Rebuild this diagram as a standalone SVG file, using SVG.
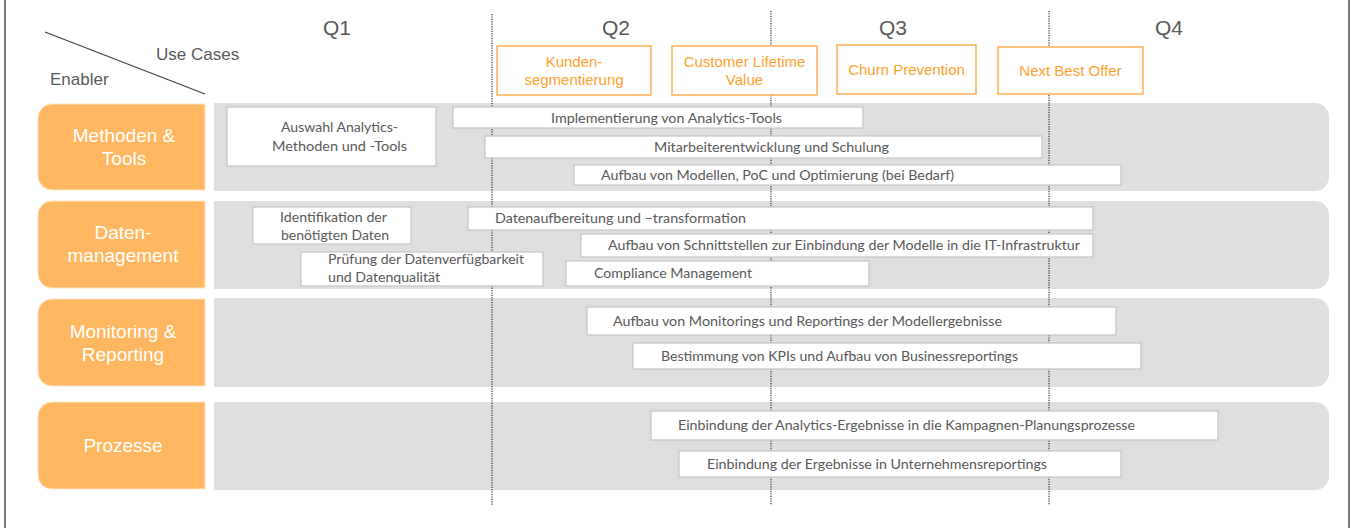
<svg xmlns="http://www.w3.org/2000/svg" width="1352" height="528" viewBox="0 0 1352 528">
<style>
.hdr{font-family:"Liberation Sans",Arial,sans-serif;fill:#595959}
.q{font-size:21px;text-anchor:middle}
.uc rect{fill:#fff;stroke:#FFB55E;stroke-width:1.6}
.uc text{font-family:"Liberation Sans",Arial,sans-serif;font-size:15px;fill:#FFA030;text-anchor:middle}
.band{fill:#DFDFDF}
.lbl{fill:#FFB761;stroke:#FFE3C4;stroke-width:1}
.lbltxt{font-family:"Liberation Sans",Arial,sans-serif;font-size:19px;fill:#fff;text-anchor:middle}
.bar{fill:#fff;stroke:#C6C6C6;stroke-width:1.2}
.bt{font-family:Lato,"Open Sans",sans-serif;font-size:13.5px;fill:#595959}
.grid line{stroke:#333;stroke-width:1.2;stroke-dasharray:1.2 1.2}
</style>
<rect width="1352" height="528" fill="#fff"/>
<line x1="5" y1="0" x2="5" y2="528" stroke="#7A7A7A" stroke-width="2"/>
<line x1="1349" y1="0" x2="1349" y2="528" stroke="#7A7A7A" stroke-width="2"/>

<g id="header">
<line x1="45" y1="32" x2="205" y2="94" stroke="#404040" stroke-width="1.2"/>
<text class="hdr" x="156" y="60" font-size="17">Use Cases</text>
<text class="hdr" x="50" y="85" font-size="17">Enabler</text>
<text class="hdr q" x="337" y="35">Q1</text>
<text class="hdr q" x="616" y="35">Q2</text>
<text class="hdr q" x="893" y="35">Q3</text>
<text class="hdr q" x="1169" y="35">Q4</text>
</g>

<g id="row-bands">
<path class="band" d="M214,103 H1315 A14,14 0 0 1 1329,117 V177 A14,14 0 0 1 1315,191 H214 Z"/>
<path class="band" d="M214,201 H1315 A14,14 0 0 1 1329,215 V275 A14,14 0 0 1 1315,289 H214 Z"/>
<path class="band" d="M214,298 H1315 A14,14 0 0 1 1329,312 V373 A14,14 0 0 1 1315,387 H214 Z"/>
<path class="band" d="M214,402 H1315 A14,14 0 0 1 1329,416 V476 A14,14 0 0 1 1315,490 H214 Z"/>
</g>

<g class="grid" id="quarter-lines">
<line x1="492" y1="14" x2="492" y2="505"/>
<line x1="771" y1="11" x2="771" y2="505"/>
<line x1="1049" y1="11" x2="1049" y2="505"/>
</g>

<g id="connectors"></g>

<g id="uc-kunden" class="uc"><rect x="497" y="46" width="154" height="49"/><text x="574" y="67">Kunden-</text><text x="574" y="85">segmentierung</text></g>
<g id="uc-clv" class="uc"><rect x="672" y="46" width="145" height="49"/><text x="744.5" y="67">Customer Lifetime</text><text x="744.5" y="85">Value</text></g>
<g id="uc-churn" class="uc"><rect x="837" y="45" width="139" height="49"/><text x="906.5" y="75">Churn Prevention</text></g>
<g id="uc-nbo" class="uc"><rect x="998" y="47" width="145" height="47"/><text x="1070.5" y="76">Next Best Offer</text></g>

<g id="enabler-methoden"><path class="lbl" d="M205,104 V190 H52 A14,14 0 0 1 38,176 V118 A14,14 0 0 1 52,104 Z"/><text class="lbltxt" x="124" y="142">Methoden &amp;</text><text class="lbltxt" x="124" y="165">Tools</text></g>
<g id="enabler-daten"><path class="lbl" d="M205,201 V288 H52 A14,14 0 0 1 38,274 V215 A14,14 0 0 1 52,201 Z"/><text class="lbltxt" x="123" y="239">Daten-</text><text class="lbltxt" x="123" y="262">management</text></g>
<g id="enabler-monitoring"><path class="lbl" d="M205,299 V386 H52 A14,14 0 0 1 38,372 V313 A14,14 0 0 1 52,299 Z"/><text class="lbltxt" x="123" y="338">Monitoring &amp;</text><text class="lbltxt" x="123" y="361">Reporting</text></g>
<g id="enabler-prozesse"><path class="lbl" d="M205,402 V489 H52 A14,14 0 0 1 38,475 V416 A14,14 0 0 1 52,402 Z"/><text class="lbltxt" x="123" y="452">Prozesse</text></g>

<g id="t-auswahl"><rect class="bar" x="227" y="107" width="209" height="59"/><text class="bt" x="281" y="132" textLength="117" lengthAdjust="spacingAndGlyphs">Auswahl Analytics-</text><text class="bt" x="272" y="151" textLength="135" lengthAdjust="spacingAndGlyphs">Methoden und -Tools</text></g>
<g id="t-implementierung"><rect class="bar" x="453" y="107" width="410" height="21"/><text class="bt" x="551" y="123" textLength="231" lengthAdjust="spacingAndGlyphs">Implementierung von Analytics-Tools</text></g>
<g id="t-mitarbeiter"><rect class="bar" x="485" y="136" width="557" height="22"/><text class="bt" x="654" y="152" textLength="235" lengthAdjust="spacingAndGlyphs">Mitarbeiterentwicklung und Schulung</text></g>
<g id="t-modelle"><rect class="bar" x="574" y="165" width="547" height="20"/><text class="bt" x="601" y="180" textLength="353" lengthAdjust="spacingAndGlyphs">Aufbau von Modellen, PoC und Optimierung (bei Bedarf)</text></g>

<g id="t-identifikation"><rect class="bar" x="253" y="207" width="158" height="37"/><text class="bt" x="280" y="222" textLength="107" lengthAdjust="spacingAndGlyphs">Identifikation der</text><text class="bt" x="281" y="240" textLength="108" lengthAdjust="spacingAndGlyphs">benötigten Daten</text></g>
<g id="t-datenaufbereitung"><rect class="bar" x="468" y="207" width="625" height="23"/><text class="bt" x="495" y="223" textLength="251" lengthAdjust="spacingAndGlyphs">Datenaufbereitung und –transformation</text></g>
<g id="t-schnittstellen"><rect class="bar" x="581" y="234" width="512" height="23"/><text class="bt" x="608" y="250" textLength="472" lengthAdjust="spacingAndGlyphs">Aufbau von Schnittstellen zur Einbindung der Modelle in die IT-Infrastruktur</text></g>
<g id="t-pruefung"><rect class="bar" x="301" y="252" width="242" height="34"/><text class="bt" x="328" y="264" textLength="196" lengthAdjust="spacingAndGlyphs">Prüfung der Datenverfügbarkeit</text><text class="bt" x="328" y="282" textLength="112" lengthAdjust="spacingAndGlyphs">und Datenqualität</text></g>
<g id="t-compliance"><rect class="bar" x="566" y="261" width="303" height="25"/><text class="bt" x="594" y="278" textLength="158" lengthAdjust="spacingAndGlyphs">Compliance Management</text></g>

<g id="t-monitorings"><rect class="bar" x="587" y="307" width="529" height="28"/><text class="bt" x="613" y="326" textLength="389" lengthAdjust="spacingAndGlyphs">Aufbau von Monitorings und Reportings der Modellergebnisse</text></g>
<g id="t-kpis"><rect class="bar" x="633" y="343" width="508" height="26"/><text class="bt" x="661" y="361" textLength="357" lengthAdjust="spacingAndGlyphs">Bestimmung von KPIs und Aufbau von Businessreportings</text></g>

<g id="t-kampagnen"><rect class="bar" x="651" y="411" width="567" height="29"/><text class="bt" x="678" y="430" textLength="457" lengthAdjust="spacingAndGlyphs">Einbindung der Analytics-Ergebnisse in die Kampagnen-Planungsprozesse</text></g>
<g id="t-unternehmen"><rect class="bar" x="679" y="451" width="442" height="26"/><text class="bt" x="707" y="469" textLength="340" lengthAdjust="spacingAndGlyphs">Einbindung der Ergebnisse in Unternehmensreportings</text></g>
</svg>
